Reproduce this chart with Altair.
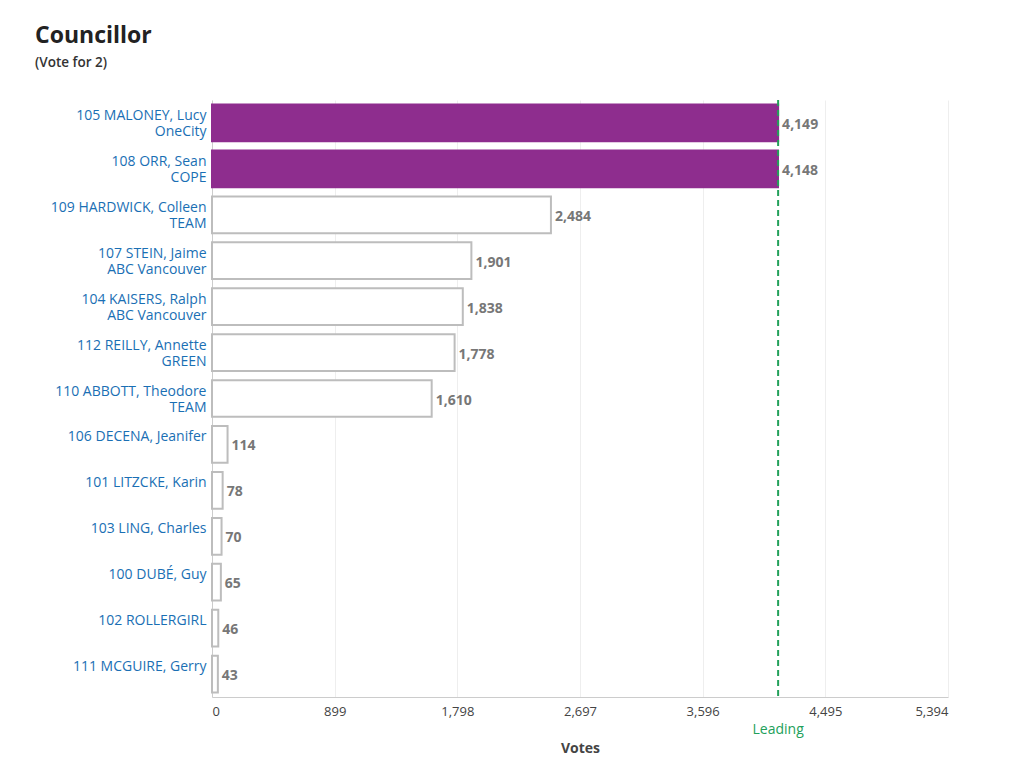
import altair as alt
import pandas as pd

candidates = [
    "105 MALONEY, Lucy|OneCity",
    "108 ORR, Sean|COPE",
    "109 HARDWICK, Colleen|TEAM",
    "107 STEIN, Jaime|ABC Vancouver",
    "104 KAISERS, Ralph|ABC Vancouver",
    "112 REILLY, Annette|GREEN",
    "110 ABBOTT, Theodore|TEAM",
    "106 DECENA, Jeanifer",
    "101 LITZCKE, Karin",
    "103 LING, Charles",
    "100 DUBÉ, Guy",
    "102 ROLLERGIRL",
    "111 MCGUIRE, Gerry",
]
votes = [4149, 4148, 2484, 1901, 1838, 1778, 1610, 114, 78, 70, 65, 46, 43]
tick_values = [0, 899, 1798, 2697, 3596, 4495, 5394]
seats = 2
leading_value = [4149]
leading_label = ["Leading"]

df = pd.DataFrame({"candidate": candidates, "votes": votes})
df["elected"] = ["yes" if i < seats else "no" for i in range(len(df))]
lead_df = pd.DataFrame({"votes": leading_value, "label": leading_label})

W, H = 736, 597
FONT = "Open Sans"

x_scale = alt.Scale(domain=[0, 5394], nice=False)

bars = alt.Chart(df).mark_bar(strokeWidth=2).encode(
    y=alt.Y("candidate:N", sort=candidates, title=None,
            scale=alt.Scale(paddingInner=0.2, paddingOuter=0.1),
            axis=alt.Axis(labelExpr="split(datum.label, '|')", labelColor="#1a6fb4",
                          labelFontSize=14, labelFont=FONT, labelPadding=6, ticks=False,
                          domain=True, domainColor="#cccccc", labelLineHeight=16.5,
                          labelOffset=-7, labelLimit=300)),
    x=alt.X("votes:Q", scale=x_scale, title="Votes",
            axis=alt.Axis(values=tick_values, format=",d", labelColor="#444444",
                          labelFontSize=13, labelFont=FONT, ticks=False, labelPadding=8,
                          domainColor="#cccccc", gridColor="#eeeeee", titleFont=FONT,
                          titleFontSize=14, titleFontWeight="bold", titleColor="#444444",
                          titlePadding=23)),
    fill=alt.Fill("elected:N", scale=alt.Scale(domain=["yes", "no"], range=["#8e2d8e", "#ffffff"]), legend=None),
    stroke=alt.Stroke("elected:N", scale=alt.Scale(domain=["yes", "no"], range=["#8e2d8e", "#bdbdbd"]), legend=None),
)

labels = alt.Chart(df).mark_text(align="left", baseline="middle", dx=4, dy=2, fontWeight="bold",
                                 fontSize=14, font=FONT, color="#777777").encode(
    y=alt.Y("candidate:N", sort=candidates),
    x=alt.X("votes:Q", scale=x_scale),
    text=alt.Text("votes:Q", format=",d"),
)

lead_rule = alt.Chart(lead_df).mark_rule(color="#22a05a", strokeDash=[6, 4], strokeWidth=2).encode(
    x=alt.X("votes:Q", scale=x_scale),
)

lead_text = alt.Chart(lead_df).mark_text(color="#22a05a", fontSize=14, font=FONT,
                                         baseline="middle").encode(
    x=alt.X("votes:Q", scale=x_scale),
    y=alt.value(H + 33),
    text="label:N",
)

chart = alt.layer(bars, labels, lead_rule, lead_text).properties(
    width=W, height=H,
    autosize=alt.AutoSizeParams(type="none"),
    padding={"left": 204, "top": 92, "right": 60, "bottom": 59},
    title=alt.TitleParams("Councillor", subtitle="(Vote for 2)", anchor="start", frame="group",
                          dx=-177,
                          font=FONT, fontSize=23, fontWeight="bold", color="#222222",
                          subtitleFont=FONT, subtitleFontSize=13.5, subtitleFontWeight=600,
                          subtitleColor="#333333", subtitlePadding=8, offset=30),
).configure_view(strokeWidth=0)

chart.save("out.html", embed_options={"renderer": "svg", "actions": False})
